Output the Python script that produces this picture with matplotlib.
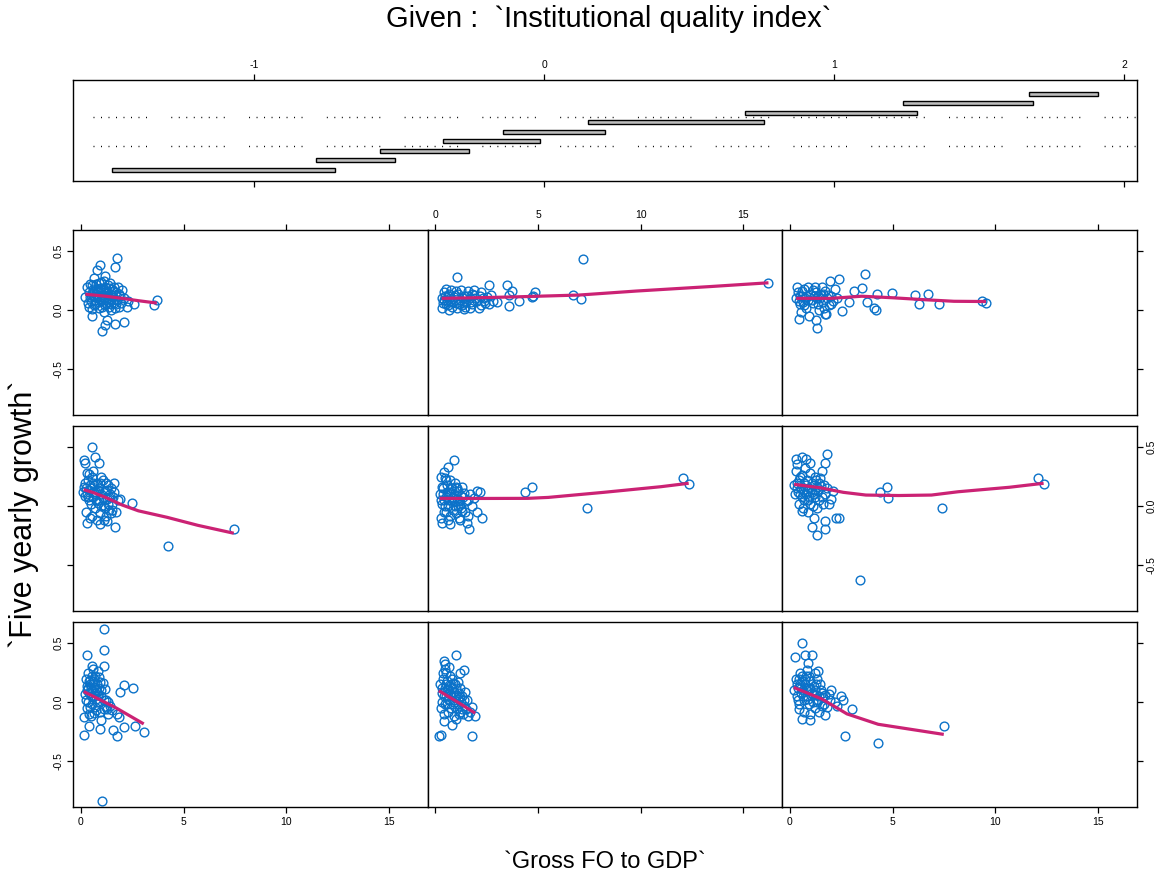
import numpy as np
import matplotlib
matplotlib.use("Agg")
import matplotlib.pyplot as plt
from matplotlib.patches import Rectangle

plt.rcParams['font.family'] = ['Liberation Sans', 'DejaVu Sans']
plt.rcParams['lines.scale_dashes'] = False

# ---------------------------------------------------------------------------
# Conditioning intervals of the institutional quality index (bottom to top)
iq_low = [-1.488, -0.787, -0.565, -0.347, -0.142, 0.151, 0.694, 1.238, 1.673]
iq_high = [-0.722, -0.514, -0.260, -0.014, 0.209, 0.757, 1.284, 1.686, 1.908]
iq_ticks = [-1, 0, 1, 2]

# Gross FO to GDP (x) and five yearly growth (y) for each interval, as [x, y]
panel1 = [[1.14, 0.62], [1.14, 0.44], [0.29, 0.40], [1.10, 0.31], [0.55, 0.31], [2.08, 0.145],
          [2.54, 0.12], [1.92, 0.083], [1.02, -0.84], [0.13, -0.28], [1.76, -0.29], [1.55, -0.24],
          [3.06, -0.25], [2.65, -0.20], [2.08, -0.21], [0.94, -0.23], [0.37, -0.20], [0.13, -0.13],
          [1.76, -0.10], [1.85, -0.13], [1.27, -0.06], [1.19, 0.11],
          [0.25, 0.20], [0.35, 0.25], [0.45, 0.15], [0.50, 0.05], [0.60, 0.18], [0.70, 0.22],
          [0.75, 0.10], [0.80, 0.00], [0.90, 0.12], [1.00, 0.05], [0.30, -0.05], [0.40, 0.08],
          [0.55, -0.02], [0.65, 0.13], [0.85, 0.26], [0.95, -0.08], [1.05, 0.16], [1.20, 0.02],
          [1.30, -0.10], [0.20, 0.07], [0.50, -0.12], [0.60, 0.28], [0.70, -0.04], [0.80, 0.09],
          [1.00, -0.15], [1.40, -0.03], [0.45, 0.19], [0.35, 0.00], [0.90, 0.21], [1.10, -0.06],
          [0.65, -0.09], [0.75, 0.03], [0.30, 0.14], [0.55, 0.10], [1.50, -0.07], [0.40, -0.10],
          [0.85, 0.06],
          [0.30, 0.10], [0.40, 0.18], [0.50, 0.12], [0.60, 0.04], [0.65, 0.20], [0.70, 0.08],
          [0.80, 0.15], [0.90, 0.00], [1.00, 0.10], [1.10, 0.02], [1.20, -0.04], [0.45, -0.04],
          [0.55, 0.22], [0.75, -0.07], [0.95, 0.17], [0.35, 0.12], [1.30, 0.00], [0.25, 0.02]]
panel2 = [[1.02, 0.40], [0.40, 0.35], [0.48, 0.32], [1.21, 0.25], [1.40, 0.27], [0.16, -0.29],
          [1.78, -0.29], [1.94, -0.12], [0.40, -0.16], [0.80, -0.19], [0.25, -0.28],
          [0.20, 0.15], [0.30, 0.08], [0.35, 0.20], [0.45, 0.12], [0.50, 0.05], [0.55, 0.18],
          [0.60, 0.10], [0.65, 0.02], [0.70, 0.14], [0.75, 0.06], [0.80, 0.20], [0.85, -0.02],
          [0.90, 0.09], [0.95, 0.04], [1.00, 0.12], [1.05, -0.05], [1.10, 0.03], [1.15, 0.08],
          [1.20, -0.08], [1.25, 0.00], [1.30, 0.05], [1.35, -0.10], [1.40, -0.03], [1.50, -0.06],
          [1.55, 0.02], [1.60, -0.12], [1.70, -0.08], [1.80, -0.04], [0.25, -0.05], [0.40, -0.10],
          [0.50, 0.25], [0.60, -0.08], [0.70, 0.22], [0.90, -0.12], [1.10, 0.17], [0.30, 0.00],
          [0.55, -0.02], [0.85, 0.16], [1.00, -0.14], [1.20, 0.12], [0.45, 0.28], [0.65, 0.30],
          [1.45, 0.09],
          [0.30, 0.12], [0.40, 0.05], [0.50, 0.15], [0.60, 0.03], [0.70, 0.08], [0.80, 0.12],
          [0.90, 0.00], [1.00, 0.06], [1.10, -0.02], [1.20, 0.04], [1.30, -0.06], [1.40, 0.02],
          [0.35, 0.25], [0.55, 0.10], [0.75, -0.05], [0.95, 0.15], [1.15, -0.10], [0.45, -0.02]]
panel3 = [[0.59, 0.50], [0.26, 0.38], [0.75, 0.40], [1.07, 0.40], [0.88, 0.33], [1.37, 0.26],
          [2.59, 0.02], [3.02, -0.06], [2.70, -0.29], [4.28, -0.345], [7.50, -0.20], [1.72, -0.11],
          [0.59, -0.14], [0.99, -0.15], [1.89, 0.07], [0.18, 0.10], [0.42, -0.06], [2.20, 0.00],
          [2.50, 0.05],
          [0.30, 0.20], [0.40, 0.12], [0.50, 0.25], [0.55, 0.08], [0.60, 0.18], [0.70, 0.02],
          [0.75, 0.15], [0.80, 0.22], [0.85, 0.05], [0.90, 0.12], [0.95, -0.02], [1.00, 0.18],
          [1.05, 0.08], [1.10, 0.00], [1.15, 0.14], [1.20, -0.05], [1.25, 0.06], [1.30, 0.20],
          [1.35, 0.02], [1.40, -0.08], [1.50, 0.10], [1.55, -0.03], [1.60, 0.04], [1.70, 0.06],
          [1.80, -0.04], [1.95, 0.02], [0.35, 0.05], [0.45, -0.02], [0.65, 0.10], [0.70, -0.08],
          [0.85, 0.27], [1.00, -0.10], [1.20, 0.25], [0.50, 0.15], [1.45, 0.15], [2.00, 0.10],
          [2.30, -0.03],
          [0.35, 0.15], [0.45, 0.20], [0.55, 0.12], [0.65, 0.05], [0.75, 0.20], [0.80, 0.10],
          [0.90, 0.03], [1.00, 0.12], [1.10, 0.06], [1.20, 0.10], [1.30, 0.00], [1.40, 0.05],
          [1.55, 0.08], [1.65, -0.02], [0.60, 0.22], [0.95, 0.22], [1.25, 0.15], [0.40, 0.02]]
panel4 = [[0.54, 0.50], [0.70, 0.42], [0.21, 0.37], [0.86, 0.37], [0.15, 0.39], [0.37, 0.27],
          [1.59, 0.20], [1.92, 0.06], [2.49, 0.03], [7.45, -0.19], [4.23, -0.34], [0.29, -0.145],
          [0.94, -0.154], [1.27, -0.125], [1.67, -0.18], [1.51, -0.03], [0.13, 0.16], [0.10, 0.12],
          [0.20, 0.20], [0.30, 0.10], [0.35, 0.22], [0.40, 0.05], [0.50, 0.15], [0.55, 0.25],
          [0.60, 0.08], [0.65, 0.18], [0.70, -0.02], [0.75, 0.12], [0.80, 0.20], [0.85, 0.03],
          [0.90, 0.15], [0.95, -0.06], [1.00, 0.10], [1.05, 0.22], [1.10, 0.00], [1.15, 0.13],
          [1.20, -0.08], [1.25, 0.06], [1.30, 0.18], [1.35, -0.03], [1.40, 0.10], [1.50, 0.02],
          [1.60, 0.12], [1.70, -0.05], [1.80, 0.05], [0.25, -0.05], [0.45, -0.10], [0.60, 0.30],
          [0.80, -0.12], [1.00, 0.25], [1.20, 0.20], [0.40, 0.14], [0.70, 0.10], [0.90, 0.05],
          [1.10, -0.12], [0.30, 0.28], [0.55, -0.08], [1.45, 0.15],
          [0.25, 0.15], [0.35, 0.08], [0.50, 0.02], [0.60, 0.20], [0.75, 0.05], [0.85, 0.14],
          [0.95, 0.20], [1.05, 0.07], [1.15, -0.02], [1.25, 0.14], [1.35, 0.08], [1.45, -0.06],
          [0.45, 0.18], [0.65, 0.12], [1.00, 0.00], [1.30, 0.02], [0.20, 0.09], [1.55, 0.08]]
panel5 = [[0.89, 0.39], [0.40, 0.29], [0.62, 0.33], [2.19, 0.12], [4.38, 0.12], [4.71, 0.165],
          [7.39, -0.02], [12.07, 0.237], [12.35, 0.19], [0.32, -0.14], [0.72, -0.154],
          [1.62, -0.197], [1.54, -0.14], [2.27, -0.10], [2.02, -0.054], [0.28, 0.25], [0.50, 0.22],
          [0.20, 0.10], [0.30, 0.02], [0.35, 0.15], [0.40, -0.05], [0.50, 0.08], [0.55, 0.18],
          [0.60, 0.00], [0.65, 0.12], [0.70, -0.08], [0.75, 0.05], [0.80, 0.15], [0.85, -0.03],
          [0.90, 0.10], [0.95, 0.20], [1.00, -0.06], [1.05, 0.06], [1.10, 0.13], [1.15, -0.10],
          [1.20, 0.02], [1.25, 0.09], [1.30, -0.04], [1.40, 0.11], [1.50, 0.04], [1.60, -0.08],
          [1.70, 0.10], [1.80, 0.00], [1.90, 0.07], [2.00, 0.13], [0.25, -0.10], [0.45, 0.24],
          [0.70, 0.22], [1.00, 0.16], [1.30, 0.16], [0.60, -0.12], [0.90, 0.04], [1.20, -0.12],
          [0.40, 0.05], [0.80, 0.07],
          [0.25, 0.05], [0.35, 0.10], [0.45, 0.00], [0.55, 0.12], [0.65, 0.05], [0.75, 0.15],
          [0.85, 0.08], [0.95, 0.00], [1.05, 0.15], [1.15, 0.04], [1.25, -0.02], [1.35, 0.08],
          [1.45, -0.05], [0.50, -0.05], [0.70, 0.10], [1.10, 0.00], [0.30, 0.16], [1.60, 0.05]]
panel6 = [[1.80, 0.44], [1.72, 0.37], [0.59, 0.42], [0.34, 0.36], [0.99, 0.37], [1.56, 0.30],
          [4.73, 0.165], [4.41, 0.117], [4.78, 0.066], [7.41, -0.017], [3.40, -0.63],
          [12.10, 0.237], [12.37, 0.185], [0.59, -0.04], [1.16, -0.10], [1.72, -0.125],
          [2.24, -0.10], [2.40, -0.10], [1.07, -0.18], [1.32, -0.245], [1.72, -0.19], [1.89, 0.017],
          [0.30, 0.40], [0.80, 0.40],
          [0.20, 0.18], [0.30, 0.30], [0.40, 0.12], [0.50, 0.25], [0.55, 0.15], [0.60, 0.08],
          [0.70, 0.20], [0.75, 0.32], [0.80, 0.10], [0.85, 0.22], [0.90, 0.05], [0.95, 0.15],
          [1.00, 0.28], [1.05, 0.12], [1.10, 0.00], [1.15, 0.18], [1.20, 0.08], [1.25, 0.22],
          [1.30, -0.02], [1.35, 0.13], [1.40, 0.05], [1.50, 0.17], [1.60, 0.02], [1.70, 0.10],
          [1.80, 0.15], [2.00, 0.06], [0.45, 0.02], [0.65, -0.02], [0.90, -0.05], [1.20, 0.25],
          [0.35, 0.20], [1.45, 0.24], [2.10, 0.13],
          [0.25, 0.10], [0.35, 0.15], [0.45, 0.22], [0.50, 0.10], [0.65, 0.14], [0.70, 0.05],
          [0.80, 0.18], [0.95, 0.08], [1.05, 0.20], [1.15, 0.10], [1.30, 0.16], [1.40, 0.20],
          [1.55, 0.08], [1.65, 0.18], [0.60, 0.26], [0.85, 0.13], [1.00, 0.02], [1.20, 0.14]]
panel7 = [[1.76, 0.44], [1.64, 0.37], [0.94, 0.38], [0.78, 0.34], [1.19, 0.29], [0.29, 0.20],
          [0.21, 0.11], [3.70, 0.09], [3.55, 0.04], [0.37, 0.03], [0.54, -0.05], [1.27, -0.08],
          [1.67, -0.12], [2.08, -0.10], [1.19, -0.13], [1.02, -0.18], [2.24, 0.03], [2.57, 0.05],
          [2.00, 0.17], [2.30, 0.08],
          [0.40, 0.15], [0.50, 0.08], [0.60, 0.18], [0.65, 0.12], [0.70, 0.05], [0.75, 0.22],
          [0.80, 0.10], [0.85, 0.15], [0.90, 0.02], [0.95, 0.19], [1.00, 0.08], [1.05, 0.13],
          [1.10, 0.25], [1.15, 0.04], [1.20, 0.16], [1.25, 0.10], [1.30, 0.21], [1.35, 0.07],
          [1.40, 0.14], [1.45, 0.00], [1.50, 0.18], [1.55, 0.11], [1.60, 0.06], [1.70, 0.15],
          [1.75, 0.09], [1.80, 0.20], [1.85, 0.03], [1.90, 0.12], [0.45, 0.22], [0.55, 0.01],
          [0.62, 0.27], [0.72, 0.14], [0.88, 0.07], [0.98, 0.24], [1.08, 0.17], [1.12, -0.02],
          [1.32, 0.13], [1.42, 0.23], [1.58, 0.16], [1.65, 0.02], [0.35, 0.06], [0.50, 0.13],
          [0.68, 0.09], [0.82, 0.18], [1.00, 0.11], [1.22, 0.06], [1.38, 0.19], [1.48, 0.09],
          [2.10, 0.10], [1.95, 0.06],
          [0.42, 0.11], [0.58, 0.16], [0.63, 0.04], [0.78, 0.12], [0.92, 0.16], [1.03, 0.03],
          [1.13, 0.10], [1.27, 0.15], [1.37, 0.03], [1.52, 0.13], [1.62, 0.20], [1.72, 0.05],
          [0.52, 0.21], [0.87, 0.23], [1.17, 0.20], [1.47, 0.05], [0.73, 0.17], [0.97, 0.13],
          [1.33, 0.09], [1.83, 0.14]]
panel8 = [[1.05, 0.28], [2.60, 0.21], [3.49, 0.21], [3.73, 0.165], [4.87, 0.15], [4.70, 0.11],
          [0.32, 0.02], [0.40, 0.09], [1.38, 0.01], [1.70, 0.02], [2.60, 0.05], [3.00, 0.066],
          [3.57, 0.037], [4.06, 0.08], [2.50, 0.11], [7.20, 0.436], [6.70, 0.13], [7.08, 0.094],
          [16.24, 0.23], [4.77, 0.117], [3.60, 0.13],
          [0.30, 0.10], [0.40, 0.15], [0.50, 0.05], [0.60, 0.12], [0.70, 0.08], [0.75, 0.17],
          [0.80, 0.03], [0.90, 0.11], [1.00, 0.06], [1.10, 0.14], [1.20, 0.09], [1.30, 0.04],
          [1.40, 0.12], [1.50, 0.07], [1.60, 0.16], [1.70, 0.10], [1.80, 0.05], [1.90, 0.13],
          [2.00, 0.08], [2.10, 0.02], [2.20, 0.15], [2.30, 0.10], [2.40, 0.06], [2.70, 0.13],
          [2.80, 0.08], [0.50, 0.18], [0.65, 0.00], [1.05, 0.02], [1.25, 0.17], [0.35, 0.06],
          [1.45, 0.03], [1.90, 0.17], [2.20, 0.04],
          [0.45, 0.12], [0.55, 0.09], [0.68, 0.14], [0.85, 0.07], [0.95, 0.13], [1.15, 0.05],
          [1.35, 0.10], [1.55, 0.12], [1.75, 0.07], [1.95, 0.10], [2.15, 0.12], [2.35, 0.08],
          [0.60, 0.04], [1.00, 0.16], [1.40, 0.06], [1.80, 0.14]]
panel9 = [[3.67, 0.31], [2.37, 0.265], [1.97, 0.25], [3.51, 0.19], [3.10, 0.165], [4.24, 0.137],
          [4.98, 0.145], [6.11, 0.13], [6.72, 0.137], [6.31, 0.05], [7.25, 0.05], [9.37, 0.08],
          [9.56, 0.057], [3.76, 0.066], [4.08, 0.02], [4.20, 0.00], [0.42, -0.077], [1.32, -0.15],
          [2.54, -0.006], [1.72, -0.034], [2.86, 0.066],
          [0.30, 0.10], [0.40, 0.15], [0.50, 0.05], [0.60, 0.12], [0.70, 0.18], [0.80, 0.02],
          [0.90, 0.09], [1.00, 0.14], [1.10, 0.06], [1.20, 0.20], [1.30, 0.10], [1.40, 0.00],
          [1.50, 0.13], [1.60, 0.07], [1.70, 0.16], [1.80, 0.10], [1.90, 0.04], [2.00, 0.12],
          [2.10, 0.08], [2.20, 0.18], [0.35, 0.20], [0.55, -0.02], [0.75, 0.10], [0.95, -0.05],
          [1.15, 0.12], [1.35, 0.05], [1.55, 0.20], [1.75, -0.03], [2.30, 0.10], [0.65, 0.07],
          [1.25, -0.08],
          [0.45, 0.08], [0.60, 0.16], [0.80, 0.12], [0.90, 0.20], [1.05, 0.09], [1.25, 0.15],
          [1.45, 0.10], [1.65, 0.02], [1.85, 0.13], [0.50, 0.12], [0.70, 0.04], [1.10, 0.17],
          [1.35, 0.12], [1.60, 0.14], [2.00, 0.05]]

# Smoothed growth curve in each interval, as [x, y]
smooth1 = [[0.13, 0.09], [1.67, -0.045], [3.06, -0.185]]
smooth2 = [[0.16, 0.097], [1.05, 0.003], [1.94, -0.094]]
smooth3 = [[0.18, 0.125], [1.56, 0.026], [2.78, -0.10], [4.30, -0.188], [7.50, -0.274]]
smooth4 = [[0.13, 0.14], [0.60, 0.115], [1.20, 0.074], [2.00, 0.01], [2.80, -0.04],
           [4.20, -0.095], [5.70, -0.163], [7.45, -0.23]]
smooth5 = [[0.20, 0.066], [2.00, 0.065], [4.50, 0.066], [5.50, 0.074], [8.20, 0.117],
           [11.0, 0.165], [12.35, 0.194]]
smooth6 = [[0.20, 0.185], [1.50, 0.155], [2.60, 0.117], [3.70, 0.094], [5.30, 0.09],
           [6.90, 0.094], [8.20, 0.122], [10.7, 0.16], [12.37, 0.194]]
smooth7 = [[0.21, 0.135], [0.80, 0.125], [1.20, 0.118], [2.00, 0.10], [2.80, 0.08],
           [3.70, 0.06]]
smooth8 = [[0.30, 0.10], [2.00, 0.105], [4.00, 0.113], [7.00, 0.128], [9.80, 0.162],
           [13.4, 0.20], [16.24, 0.232]]
smooth9 = [[0.30, 0.10], [2.00, 0.10], [3.00, 0.112], [3.50, 0.118], [5.00, 0.105],
           [6.60, 0.088], [8.00, 0.075], [9.56, 0.073]]

panels = [panel1, panel2, panel3, panel4, panel5, panel6, panel7, panel8, panel9]
smooths = [smooth1, smooth2, smooth3, smooth4, smooth5, smooth6, smooth7, smooth8, smooth9]

fo_ticks = [0, 5, 10, 15]
growth_ticks = [-0.5, 0.0, 0.5]
growth_labels = ['-0.5', '0.0', '0.5']

POINT_COLOR = '#0B72C9'
SMOOTH_COLOR = '#CB2274'

W, H = 1163, 884
fig = plt.figure(figsize=(W / 100, H / 100), dpi=100)


def frac(left, top, width, height):
    return [left / W, 1 - (top + height) / H, width / W, height / H]


# --- conditioning ("given") panel ------------------------------------------
gax = fig.add_axes(frac(73, 80, 1064, 101))
gax.set_xlim(-1.624, 2.044)
gax.set_ylim(-0.19, 10.44)
for i, (lo, hi) in enumerate(zip(iq_low, iq_high)):
    gax.add_patch(Rectangle((lo, i + 1 - 0.22), hi - lo, 0.44, facecolor='#bdbdbd',
                            edgecolor='black', linewidth=1.0))
dot_group = []
for _ in range(7):
    dot_group += [0.7, 4.7]
dot_group += [0.7, 17.5]
for yline in (3.5, 6.5):
    gax.axhline(yline, color='black', linewidth=1.0, linestyle=(41.6, tuple(dot_group)))
gax.set_xticks(iq_ticks)
gax.set_xticklabels([str(t) for t in iq_ticks])
gax.set_yticks([])
gax.tick_params(axis='x', which='both', top=True, bottom=True, labeltop=True,
                labelbottom=False, direction='out', length=4.5, width=0.9,
                labelsize=7.5, pad=2.5)
for s in gax.spines.values():
    s.set_linewidth(1.0)

fig.text(0.523, 0.979, 'Given :  `Institutional quality index`', ha='center',
         va='center', fontsize=21)

# --- scatter panels ---------------------------------------------------------
col_left = [73, 427.5, 782]
row_top = [230, 426, 622]
pw, ph = 354.5, 185

for k, (pts, curve) in enumerate(zip(panels, smooths)):
    row = 2 - k // 3
    col = k % 3
    ax = fig.add_axes(frac(col_left[col], row_top[row], pw, ph))
    arr = np.array(pts)
    ax.plot(arr[:, 0], arr[:, 1], 'o', mfc='none', mec=POINT_COLOR, ms=6.3, mew=1.0,
            zorder=2)
    c = np.array(curve)
    ax.plot(c[:, 0], c[:, 1], color=SMOOTH_COLOR, linewidth=2.3, zorder=3,
            solid_joinstyle='round', solid_capstyle='butt')
    ax.set_xlim(-0.39, 16.9)
    ax.set_ylim(-0.89, 0.68)
    for s in ax.spines.values():
        s.set_linewidth(1.0)

    ax.set_xticks(fo_ticks)
    ax.set_xticklabels([str(t) for t in fo_ticks])
    ax.set_yticks(growth_ticks)
    ax.set_yticklabels(growth_labels)

    ax.tick_params(axis='x', bottom=(row == 2), top=(row == 0),
                   labelbottom=(row == 2 and col != 1),
                   labeltop=(row == 0 and col == 1),
                   direction='out', length=4.5, width=0.9, labelsize=7.5, pad=2.5)
    ax.tick_params(axis='y', left=(col == 0), right=(col == 2),
                   labelleft=(col == 0 and row != 1),
                   labelright=(col == 2 and row == 1),
                   direction='out', length=4.5, width=0.9, labelsize=7.5, pad=2.5,
                   labelrotation=90)
    for lab in ax.get_yticklabels():
        lab.set_va('center')

fig.text(0.52, 0.025, '`Gross FO to GDP`', ha='center', va='center', fontsize=17)
fig.text(0.020, 0.418, '`Five yearly growth`', ha='center', va='center',
         rotation=90, fontsize=22)

fig.savefig('out.png', dpi=100)
